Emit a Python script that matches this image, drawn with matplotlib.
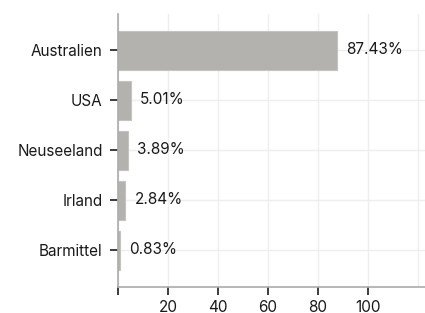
import matplotlib.pyplot as plt

categories = ["Australien", "USA", "Neuseeland", "Irland", "Barmittel"]
values = [87.43, 5.01, 3.89, 2.84, 0.83]
labels = ["87.43%", "5.01%", "3.89%", "2.84%", "0.83%"]
xticks = [0, 20, 40, 60, 80, 100]
xticklabels = ["", "20", "40", "60", "80", "100"]

plt.rcParams['font.family'] = ['Inter', 'DejaVu Sans']
fs = 11

fig = plt.figure(figsize=(4.25, 3.13), dpi=100)
ax = fig.add_axes([118 / 425, 1 - 287 / 313, (425 - 118) / 425, (287 - 14) / 313])

ypos = list(range(len(categories)))
ax.barh(ypos, values, height=0.78, color='#b3b2ae', edgecolor='#c4c3bf', linewidth=0.8, zorder=2)
for y, v, lab in zip(ypos, values, labels):
    ax.text(v + 3.8, y, lab, va='center', ha='left', fontsize=fs, color='#1a1a1a')

ax.set_yticks(ypos)
ax.set_yticklabels(categories, fontsize=fs, color='#1a1a1a')
ax.set_xticks(xticks + [120])
ax.set_xticklabels(xticklabels + [""], fontsize=fs, color='#1a1a1a')
ax.set_xlim(0, 122.8)
ax.set_ylim(4.74, -0.72)

ax.grid(True, color='#eeeeee', linewidth=1, zorder=0)
ax.set_axisbelow(True)
for s in ['top', 'right']:
    ax.spines[s].set_visible(False)
for s in ['left', 'bottom']:
    ax.spines[s].set_color('#aaaaaa')
    ax.spines[s].set_linewidth(1.2)
ax.tick_params(axis='y', length=6, width=1.2, color='#1a1a1a', pad=5)
ax.tick_params(axis='x', length=6, width=1.2, color='#1a1a1a', pad=3)
xt = ax.xaxis.get_major_ticks()
xt[-1].tick1line.set_visible(False)

fig.savefig('out.png', dpi=100)
